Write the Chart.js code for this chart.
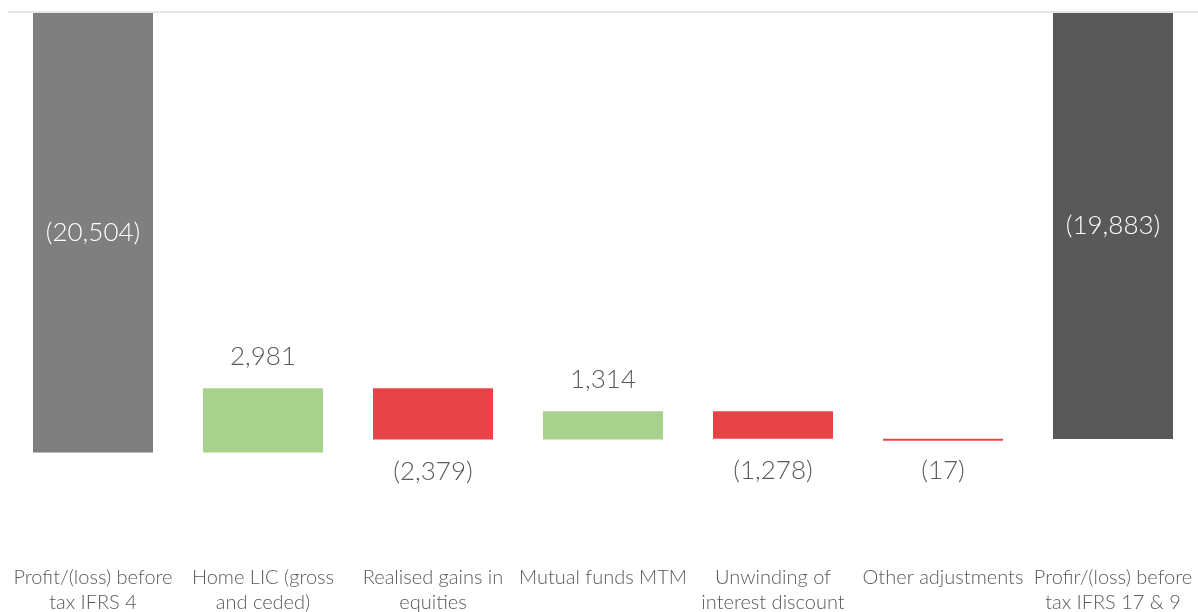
<!DOCTYPE html>
<html>
<head>
<meta charset="utf-8">
<script src="https://cdn.jsdelivr.net/npm/chart.js@4"></script>
<style>
  html, body { margin: 0; padding: 0; background: #fff; }
  #wrap { width: 1198px; height: 612px; }
</style>
</head>
<body>
<div id="wrap"><canvas id="grafico"></canvas></div>
<script>
const categorias = [
    ['Profit/(loss) before', 'tax IFRS 4'],
    ['Home LIC (gross', 'and ceded)'],
    ['Realised gains in', 'equities'],
    ['Mutual funds MTM'],
    ['Unwinding of', 'interest discount'],
    ['Other adjustments'],
    ['Profir/(loss) before', 'tax IFRS 17 & 9']
];
const valores = [-20504, 2981, -2379, 1314, -1278, -17, -19883];
const esTotal = [true, false, false, false, false, false, true];
const coloresTotal = ['#7f7f7f', null, null, null, null, null, '#595959'];

// rangos flotantes del waterfall
let acumulado = 0;
const rangos = valores.map(function(v, i) {
    if (esTotal[i]) { acumulado = v; return [0, v]; }
    const inicio = acumulado;
    acumulado += v;
    return [inicio, acumulado];
});
const colores = valores.map(function(v, i) {
    if (esTotal[i]) return coloresTotal[i];
    return v >= 0 ? '#a9d18e' : '#e84447';
});

function formato(v) {
    const s = Math.abs(v).toLocaleString('en-US');
    return v < 0 ? '(' + s + ')' : s;
}

const fuente = "'Lato', 'DejaVu Sans', sans-serif";

const etiquetas = {
    id: 'etiquetas',
    afterDatasetsDraw(chart) {
        const c = chart.ctx;
        const y = chart.scales.y;
        const area = chart.chartArea;
        // linea del cero
        c.save();
        c.strokeStyle = '#e6e6e6';
        c.lineWidth = 2;
        c.beginPath();
        c.moveTo(area.left, y.getPixelForValue(0));
        c.lineTo(area.right, y.getPixelForValue(0));
        c.stroke();

        c.font = '300 26px ' + fuente;
        c.textAlign = 'center';
        c.textBaseline = 'middle';
        chart.getDatasetMeta(0).data.forEach(function(bar, i) {
            const v = valores[i];
            const r = rangos[i];
            const yTop = y.getPixelForValue(Math.max(r[0], r[1]));
            const yBot = y.getPixelForValue(Math.min(r[0], r[1]));
            let ty;
            if (esTotal[i]) {
                c.fillStyle = '#ffffff';
                ty = (yTop + yBot) / 2;
            } else if (v >= 0) {
                c.fillStyle = '#595959';
                ty = yTop - 32;
            } else {
                c.fillStyle = '#595959';
                ty = yBot + 32;
            }
            c.fillText(formato(v), bar.x, ty);
        });
        c.restore();
    }
};

const ctx = document.getElementById('grafico').getContext('2d');
new Chart(ctx, {
    type: 'bar',
    data: {
        labels: categorias,
        datasets: [{
            data: rangos,
            backgroundColor: colores,
            borderWidth: 0,
            minBarLength: 2,
            barPercentage: 0.706,
            categoryPercentage: 1
        }]
    },
    options: {
        responsive: true,
        maintainAspectRatio: false,
        animation: false,
        layout: { padding: { top: 12, left: 8, right: 0, bottom: -19 } },
        plugins: {
            legend: { display: false },
            tooltip: { enabled: false }
        },
        scales: {
            y: {
                display: false,
                min: -24630,
                max: 0
            },
            x: {
                grid: { display: false },
                border: { display: false },
                // sin relleno extra por las etiquetas de los extremos
                afterFit: function(scale) {
                    scale.paddingLeft = 0;
                    scale.paddingRight = 0;
                },
                ticks: {
                    autoSkip: false,
                    maxRotation: 0,
                    minRotation: 0,
                    padding: 16,
                    color: '#595959',
                    font: { family: fuente, size: 20, weight: '300', lineHeight: 1.25 }
                }
            }
        }
    },
    plugins: [etiquetas]
});
</script>
</body>
</html>
